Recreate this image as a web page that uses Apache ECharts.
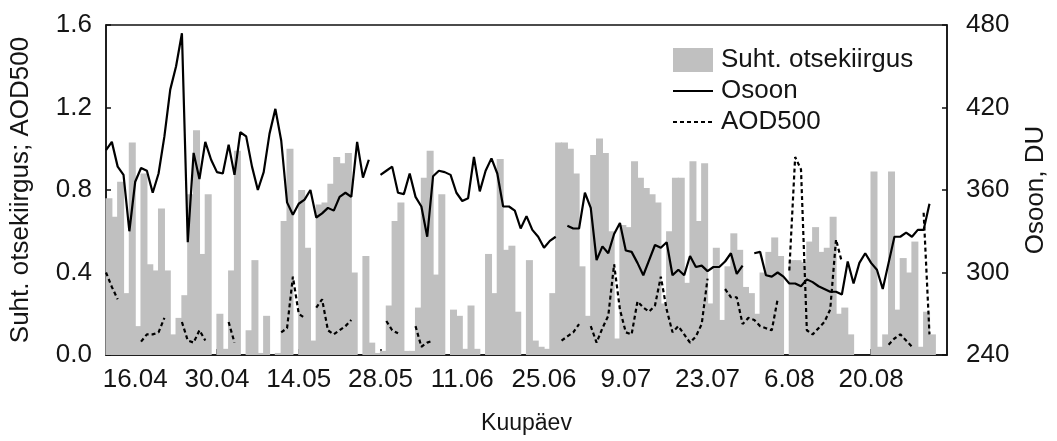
<!DOCTYPE html>
<html>
<head>
<meta charset="utf-8">
<script src="https://cdn.jsdelivr.net/npm/echarts@6/dist/echarts.min.js"></script>
<style>html,body{margin:0;padding:0;background:#fff}#c{width:1057px;height:441px}</style>
</head>
<body>
<div id="c"></div>
<script>
// Daily values from 11.04 (index 0) to 31.08 (index 142); null = no data
const startDay = '11.04';
const tickLabels = ['16.04','30.04','14.05','28.05','11.06','25.06','9.07','23.07','6.08','20.08'];

const radiation = [
 0.76,0.67,0.84,0.30,1.03,0.14,0.88,0.44,0.41,0.71,
 0.41,0.10,0.18,0.29,0.78,1.09,0.49,0.78,0,0.20,
 0.03,0.41,0.99,0,0.12,0.46,0.01,0.19,0,0.01,
 0.65,1.00,0,0.80,0.52,0.07,0.73,0.74,0.83,0.96,
 0.93,0.98,0.40,0,0.48,0.06,0.01,0.02,0.24,0.65,
 0.74,0.02,0.02,0.23,0.86,0.99,0.39,0.78,0,0.22,
 0.19,0.03,0.24,0.03,0,0.49,0.30,0.95,0.51,0.53,
 0.21,0,0.46,0.07,0.04,0.03,0.30,1.03,1.03,1.00,
 0.88,0.43,0.19,0.97,1.05,0.98,0.60,0.08,0.63,0.62,
 0.94,0.86,0.81,0.78,0.74,0.25,0.60,0.86,0.86,0.35,
 0.94,0.65,0.93,0.25,0.52,0.17,0.43,0.59,0.51,0.33,
 0.30,0.20,0.40,0.50,0.57,0.48,0,0.46,0.46,0.45,
 0.55,0.62,0.50,0.52,0.67,0.20,0.23,0.10,0,0,
 0,0.89,0.04,0.10,0.89,0.22,0.47,0.40,0.55,0.04,
 0.21,0.10,0
];

const ozone = [
 389,395,377,371,330,366,376,374,358,372,
 399,433,450,474,322,387,368,395,382,373,
 372,393,371,402,399,377,360,373,401,419,
 396,351,342,350,353,360,340,343,347,345,
 355,358,355,395,369,382,null,371,374,377,
 358,357,372,355,348,326,370,374,373,371,
 358,352,354,384,359,374,383,372,348,348,
 345,332,341,331,326,318,323,326,null,334,
 332,332,358,347,309,319,314,328,336,316,
 315,307,298,309,320,318,322,298,302,298,
 312,304,305,301,304,304,308,314,299,305,
 null,314,315,298,297,300,297,292,292,290,
 295,293,290,288,286,286,284,308,292,307,
 314,307,302,288,307,326,326,329,326,331,
 331,350,null
];

const aod = [
 0.40,0.33,0.27,null,null,null,0.065,0.10,0.10,0.11,
 0.18,null,null,0.16,0.07,0.06,0.12,0.07,null,null,
 null,0.16,0.06,null,null,null,null,null,null,null,
 0.11,0.13,0.38,0.20,0.18,null,0.23,0.27,0.12,0.10,
 0.12,0.14,0.17,null,null,null,null,null,0.165,0.12,
 0.105,null,null,0.14,0.04,0.06,0.07,null,null,null,
 null,null,null,null,null,null,null,null,null,null,
 null,null,null,null,null,null,null,null,0.07,0.09,
 0.11,0.15,null,0.14,0.06,0.13,0.19,0.44,0.22,0.11,
 0.10,0.26,0.23,0.21,0.24,0.38,0.22,0.11,0.14,0.10,
 0.06,0.09,0.15,0.37,null,null,0.32,0.28,0.28,0.15,
 0.18,0.17,0.14,0.13,0.12,0.27,null,0.41,0.96,0.90,
 0.12,0.10,0.13,0.16,0.22,0.56,0.45,null,null,null,
 null,null,null,null,0.05,0.08,0.10,0.07,0.04,null,
 0.69,0.10,null
];

function dayIndex(lbl) {
  const [d0, m0] = startDay.split('.').map(Number);
  const [d, m] = lbl.split('.').map(Number);
  return Math.round((Date.UTC(2013, m - 1, d) - Date.UTC(2013, m0 - 1, d0)) / 86400000);
}
const nDays = radiation.length + 1;
const tickPos = tickLabels.map(dayIndex);
const labelAt = {};
tickPos.forEach((p, k) => { labelAt[p] = tickLabels[k]; });

const barData = radiation.map((v, i) => [i + 0.5, v]);
const ozData = ozone.map((v, i) => [i, v === null ? '-' : v]);
const aodData = aod.map((v, i) => [i, v === null ? '-' : v]);

const FONT = "'Liberation Sans', Arial, sans-serif";
const TXT = '#151515';
const hideSym = {color: 'rgba(0,0,0,0)', borderColor: 'rgba(0,0,0,0)', borderWidth: 0};

const chart = echarts.init(document.getElementById('c'), null, {renderer: 'canvas'});
chart.setOption({
  animation: false,
  backgroundColor: '#fff',
  textStyle: {fontFamily: FONT, color: TXT},
  grid: {left: 105, right: 100, top: 25, bottom: 86, show: true, borderColor: '#111', borderWidth: 1.5, backgroundColor: 'transparent'},
  legend: {
    orient: 'vertical', left: 672, top: 47, padding: 0, itemGap: 5,
    itemWidth: 40, itemHeight: 24,
    textStyle: {fontSize: 26, color: TXT, fontFamily: FONT, padding: [0,0,0,3]},
    data: [
      {name: 'Suht. otsekiirgus', icon: 'rect'},
      {name: 'Osoon', itemStyle: hideSym},
      {name: 'AOD500', itemStyle: hideSym}
    ]
  },
  xAxis: {
    type: 'value', min: 0, max: nDays,
    name: 'Kuupäev', nameLocation: 'middle', nameGap: 57,
    nameTextStyle: {fontSize: 23, color: TXT, fontFamily: FONT},
    axisLine: {show: true, lineStyle: {color: '#111', width: 1.5}},
    axisTick: {show: true, inside: true, length: 6, customValues: tickPos, lineStyle: {color: '#111', width: 1.5}},
    axisLabel: {customValues: tickPos, margin: 12, fontSize: 26, color: TXT, fontFamily: FONT,
      formatter: v => labelAt[Math.round(v)] || ''},
    splitLine: {show: false}
  },
  yAxis: [
    {
      type: 'value', min: 0, max: 1.6, interval: 0.4, position: 'left',
      name: 'Suht. otsekiirgus; AOD500', nameLocation: 'middle', nameGap: 72,
      nameTextStyle: {fontSize: 26, color: TXT, fontFamily: FONT},
      axisLine: {show: true, lineStyle: {color: '#111', width: 1.5}},
      axisTick: {show: true, inside: true, length: 5, lineStyle: {color: '#111', width: 1.5}},
      axisLabel: {margin: 14, fontSize: 26, color: TXT, fontFamily: FONT, formatter: v => v.toFixed(1)},
      splitLine: {show: false}
    },
    {
      type: 'value', min: 240, max: 480, interval: 60, position: 'right',
      name: 'Osoon, DU', nameLocation: 'middle', nameGap: 76,
      nameTextStyle: {fontSize: 26, color: TXT, fontFamily: FONT},
      axisLine: {show: true, lineStyle: {color: '#111', width: 1.5}},
      axisTick: {show: true, inside: true, length: 5, lineStyle: {color: '#111', width: 1.5}},
      axisLabel: {margin: 19, fontSize: 26, color: TXT, fontFamily: FONT},
      splitLine: {show: false}
    }
  ],
  series: [
    {
      name: 'Suht. otsekiirgus', type: 'bar', yAxisIndex: 0, data: barData,
      barWidth: 7, itemStyle: {color: '#c0c0c0'}, z: 1
    },
    {
      name: 'Osoon', type: 'line', yAxisIndex: 1, data: ozData, symbol: 'none',
      connectNulls: false, lineStyle: {color: '#000', width: 2.2}, itemStyle: {color: '#000'}, z: 3
    },
    {
      name: 'AOD500', type: 'line', yAxisIndex: 0, data: aodData, symbol: 'none',
      connectNulls: false, lineStyle: {color: '#000', width: 2.2, type: [4, 3]}, itemStyle: {color: '#000'}, z: 3
    }
  ]
});
</script>
</body>
</html>
